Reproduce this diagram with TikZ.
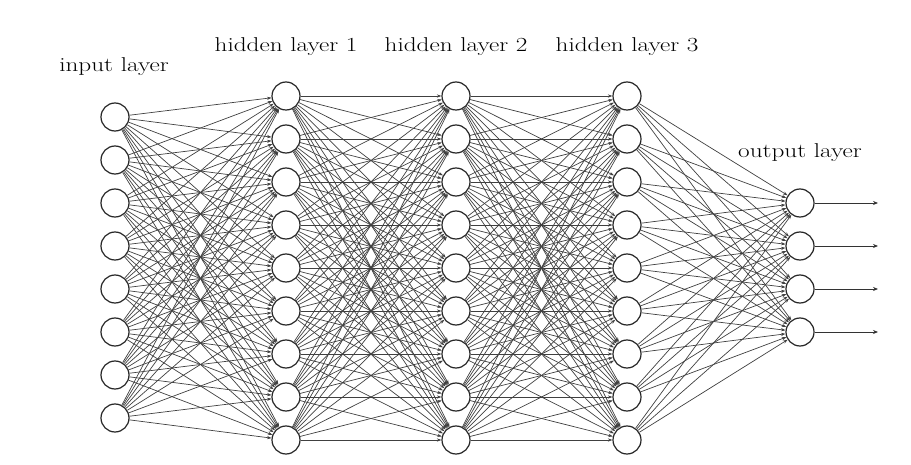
\documentclass[tikz,border=0pt]{standalone}
\usetikzlibrary{arrows.meta}
\begin{document}
\begin{tikzpicture}[x=1pt,y=-1pt,
  neuron/.style={circle,draw=black!85,line width=1.2pt,fill=white,minimum size=28pt,inner sep=0pt},
  edge/.style={draw=black!75,line width=0.7pt,-{Stealth[length=4.5pt,width=3.2pt]}},
  outarrow/.style={draw=black!80,line width=0.8pt,-{Stealth[length=5pt,width=4pt]}},
  lbl/.style={font=\fontsize{20}{23}\selectfont,inner sep=0pt,text=black}]
\useasboundingbox (0,0) rectangle (911,465);
% nodes
\foreach \i in {1,...,8} \node[neuron] (i\i) at (115,{117+43*(\i-1)}) {};
\foreach \i in {1,...,9} {
  \node[neuron] (a\i) at (286,{96+43*(\i-1)}) {};
  \node[neuron] (b\i) at (456,{96+43*(\i-1)}) {};
  \node[neuron] (c\i) at (627,{96+43*(\i-1)}) {};
}
\foreach \i in {1,...,4} {
  \node[neuron] (o\i) at (800,{203+43*(\i-1)}) {};
  \coordinate (e\i) at (878,{203+43*(\i-1)});
}
% edges
\foreach \s in {1,...,8} \foreach \t in {1,...,9} \draw[edge] (i\s) -- (a\t);
\foreach \s in {1,...,9} \foreach \t in {1,...,9} {
  \draw[edge] (a\s) -- (b\t);
  \draw[edge] (b\s) -- (c\t);
}
\foreach \s in {1,...,9} \foreach \t in {1,...,4} \draw[edge] (c\s) -- (o\t);
\foreach \i in {1,...,4} \draw[outarrow] (o\i) -- (e\i);
% labels
\node[lbl] (l0) at (114,67) {\scalebox{1.26}[1]{input layer}};
\node[lbl] (l1) at (286,47) {\scalebox{1.26}[1]{hidden layer 1}};
\node[lbl] (l2) at (456,47) {\scalebox{1.26}[1]{hidden layer 2}};
\node[lbl] (l3) at (627,47) {\scalebox{1.26}[1]{hidden layer 3}};
\node[lbl] (l4) at (800,153) {\scalebox{1.26}[1]{output layer}};
\end{tikzpicture}
\end{document}
